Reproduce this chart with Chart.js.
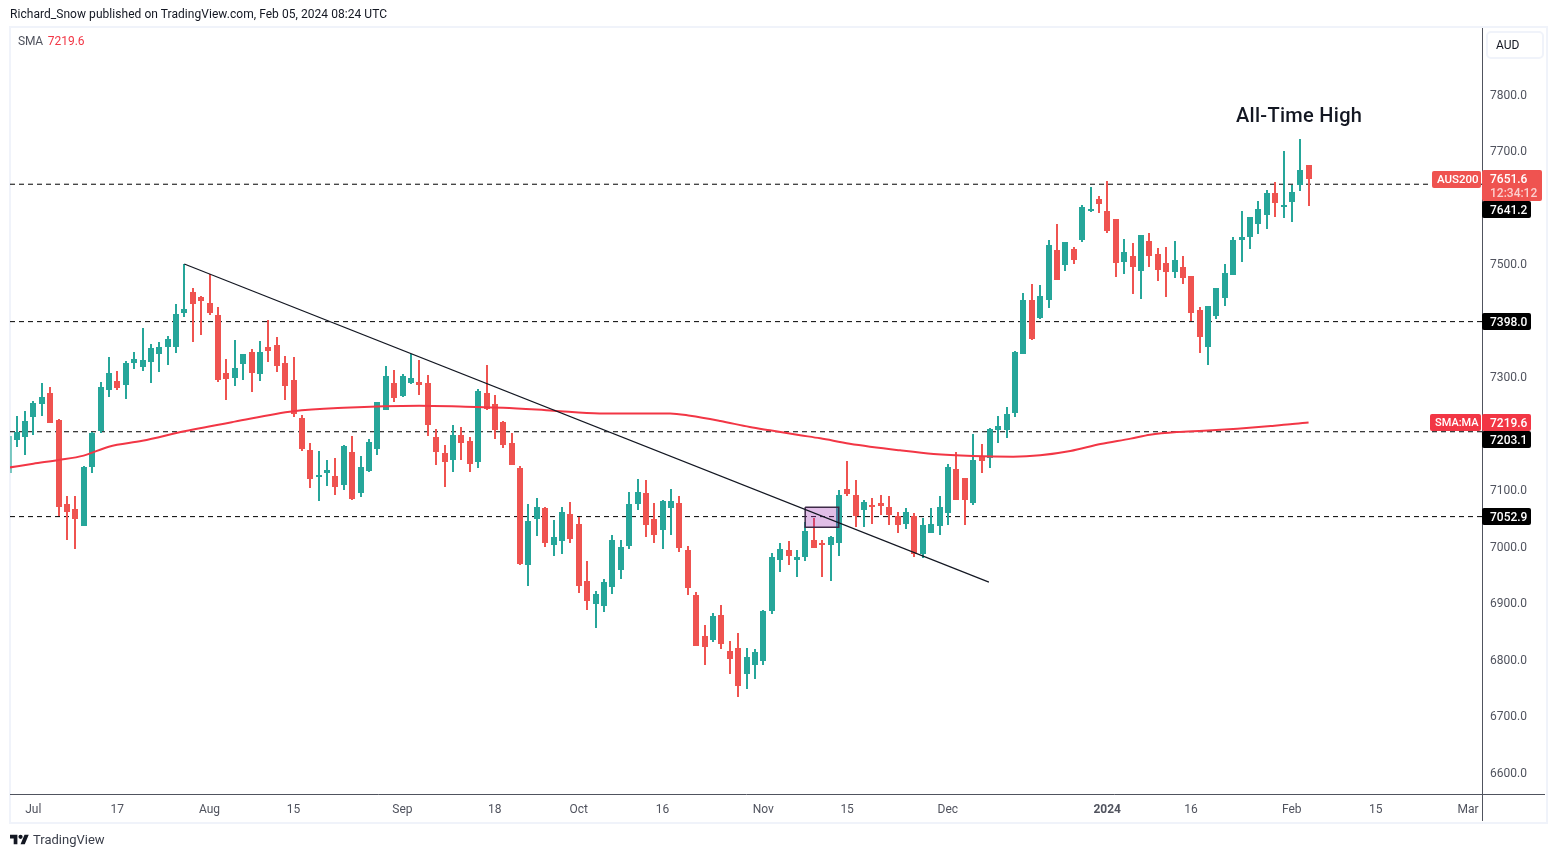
<!DOCTYPE html>
<html>
<head>
<meta charset="utf-8">
<script src="https://cdn.jsdelivr.net/npm/chart.js@4/dist/chart.umd.js"></script>
<style>
  html, body { margin: 0; padding: 0; background: #fff; width: 1556px; height: 857px; overflow: hidden; }
  body { font-family: Roboto, sans-serif; color: #131722; }
  #frame { position: absolute; left: 9px; top: 26px; width: 1535px; height: 794px; border: 2px solid #f0f3fa; }
  #plot { position: absolute; left: 0; top: 0; }
  .txt { position: absolute; white-space: nowrap; }
  #published { left: 10px; top: 7px; font-size: 12px; line-height: 15px; letter-spacing: 0.05px; }
  #legend { left: 18px; top: 34px; font-size: 12px; line-height: 15px; color: #50535e; letter-spacing: -0.2px; }
  #legend span { color: #f23645; margin-left: 2px; letter-spacing: 0; }
  #ath { left: 1236px; top: 103px; font-size: 20px; font-weight: 500; line-height: 24px; letter-spacing: 0.3px; }
  #aud { position: absolute; left: 1486px; top: 31px; width: 54px; height: 24px; border: 2px solid #f0f3fa; border-radius: 5px;
         font-size: 12px; line-height: 24px; text-indent: 8px; }
  #brand { left: 33px; top: 831px; font-size: 13px; line-height: 17px; color: #3a3e4a; }
  #logo { position: absolute; left: 10px; top: 834px; width: 19px; height: 11px; }
</style>
</head>
<body>
<div id="frame"></div>
<canvas id="plot" width="1556" height="857"></canvas>
<div class="txt" id="published">Richard_Snow published on TradingView.com, Feb 05, 2024 08:24 UTC</div>
<div class="txt" id="legend">SMA <span>7219.6</span></div>
<div class="txt" id="ath">All-Time High</div>
<div id="aud">AUD</div>
<svg id="logo" viewBox="0 4 36 18"><path fill="#131722" d="M14 22H7V11H0V4h14v18zM28 22h-8l7.5-18h8L28 22z"/><circle fill="#131722" cx="20" cy="8" r="4"/></svg>
<div class="txt" id="brand">TradingView</div>

<script>
// Daily candles, index 0 = first whole bar on the left, one bar per trading day
const opens = [
  7190.3,7195.6,7231,7254,7271.7,7223.9,7075.2,7066.4,7038,7142.5,
  7206.2,7278.8,7293,7287.6,7326.6,7319.5,7328.3,7342.5,7354.9,7354.9,
  7415.1,7450.5,7441.6,7431,7409.8,7307.1,7300,7324.8,7344.3,7307.1,
  7353.1,7356.7,7324.8,7294.7,7227.4,7170.8,7124.8,7131.9,7124.8,7110.6,
  7167.3,7096.5,7135.4,7174.3,7243.4,7289.4,7268.2,7291.2,7291.2,7289.4,
  7193.8,7165.5,7154.9,7197.4,7186.8,7151.3,7271.7,7252.2,7220.4,7183.2,
  7139,6969,7050.4,7068.1,7004.4,7011.5,7057.5,7039.8,6938.9,6900,
  6896.4,6930,6960.2,7002.6,7077,7094.7,7048.7,7031,7069.9,7077,
  6993.8,6914.1,6841.6,6836.3,6878.8,6815,6820.3,6776.1,6792,6799.1,
  6887.6,6977.9,6993.8,6977.9,6983.2,7011.5,7006.2,7004.4,7008,7101.8,
  7091.2,7066.4,7073.4,7077,7069.9,7054,7041.6,7054,6988.5,7025.6,
  7038,7061.1,7137.2,7121.2,7078.8,7158.4,7158.4,7208,7208,7238,
  7342.5,7436.3,7406.2,7438.1,7524.8,7500,7526.6,7544.3,7595.6,7615.1,
  7593.8,7579.7,7505.3,7514.2,7489.4,7540.7,7517.7,7501.8,7487.6,7494.7,
  7478.8,7418.6,7354.9,7409.8,7441.6,7482.3,7544.3,7549.6,7572.6,7588.5,
  7625.7,7602.7,7611.5,7641.6,7675.2
]
const highs = [
  7231,7239.8,7257.5,7289.4,7282.3,7225.7,7089.4,7089.4,7142.5,7202.7,
  7291.2,7335.4,7310.6,7328.3,7344.3,7386.7,7358.4,7362,7372.6,7429.2,
  7500,7457.5,7443.4,7482.3,7423.9,7331.9,7365.5,7340.7,7349.6,7363.7,
  7400.9,7370.8,7337.2,7335.4,7232.8,7183.2,7169,7153.1,7156.6,7179.6,
  7195.6,7160.2,7190.3,7255.8,7319.5,7312.4,7305.3,7340.7,7330.1,7303.5,
  7208,7179.6,7215,7211.5,7193.8,7278.8,7321.3,7268.2,7222.1,7200.9,
  7142.5,7075.2,7085.8,7069.9,7046.9,7069.9,7078.8,7052.2,6974.3,6921.2,
  6942.5,7020.3,7011.5,7096.5,7119.5,7117.7,7077,7082.3,7101.8,7089.4,
  7000.9,6919.5,6861.1,6882.3,6896.4,6832.7,6846.9,6820.3,6818.6,6887.6,
  6988.5,7006.2,7009.7,6993.8,7043.4,7050.4,7011.5,7018.6,7100,7151.3,
  7117.7,7082.3,7085.8,7091.2,7089.4,7061.1,7068.1,7059.3,7050.4,7068.1,
  7089.4,7146,7167.3,7121.2,7199.1,7181.4,7209.7,7231,7246.9,7346,
  7448.7,7464.6,7462.9,7542.5,7570.8,7539,7530.1,7604.5,7636.3,7620.4,
  7646.9,7579.7,7544.3,7537.2,7551.4,7554.9,7528.3,7530.1,7540.7,7514.2,
  7478.8,7423.9,7425.7,7457.5,7500,7547.8,7593.8,7583.2,7611.5,7631,
  7645.2,7700,7639.9,7721.3,7675.2
]
const lows = [
  7178,7163.7,7199,7232.8,7220.4,7055.8,7013.3,6997.3,7038,7131.9,
  7202.7,7266.4,7278.8,7262.8,7315.9,7312.4,7291.2,7310.6,7323,7344.3,
  7408,7363.7,7376.1,7411.5,7293,7261.1,7285.8,7296.5,7275.2,7294.7,
  7328.3,7310.6,7261.1,7231,7170.8,7105.3,7082.3,7108.9,7092.9,7101.8,
  7084.1,7089.4,7133.6,7163.7,7243.4,7257.5,7266.4,7289.4,7269.9,7197.4,
  7146,7107.1,7133.6,7154.9,7133.6,7140.7,7243.4,7192,7176.1,7146,
  6969,6931.9,7020.4,7000.9,6985,6988.5,7008,6919.5,6889.4,6857.5,
  6885.8,6917.7,6944.2,6997.3,7066.4,7018.6,7008,6997.3,7022.1,6992,
  6915.9,6825.7,6792.1,6832.7,6820.3,6776.1,6735.4,6749.5,6767.2,6792,
  6882.3,6956.6,6969,6947.8,6976.1,6999.1,6947.8,6940.7,6985,7091.2,
  7036.3,7036.3,7041.6,7057.5,7039.8,7025.6,7032.7,6983.2,6981.4,7025.6,
  7022.1,7039.8,7084.1,7039.8,7075.2,7131.9,7140.7,7185,7193.8,7231,
  7342.5,7367.3,7404.4,7423.9,7473.5,7489.4,7501.8,7540.7,7593.8,7592,
  7556.7,7478.8,7484.1,7448.7,7439.8,7496.5,7471.7,7443.4,7477,7466.4,
  7400.9,7344.3,7323,7404.4,7427.5,7482.3,7505.3,7528.3,7554.9,7563.7,
  7585,7583.2,7576.1,7631,7604.5
]
const closes = [
  7202.7,7222.1,7254,7264.6,7220.4,7071.7,7062.8,7050.4,7140.7,7200.9,
  7282.3,7307.1,7282.3,7324.8,7331.9,7330.1,7351.3,7353.1,7367.3,7411.5,
  7420.4,7431,7436.3,7415.1,7296.5,7298.2,7315.9,7340.7,7308.9,7344.3,
  7347.8,7321.2,7285.8,7236.3,7174.3,7121.2,7126.5,7135.4,7107.1,7177.9,
  7085.8,7140.7,7185,7255.8,7301.8,7264.6,7301.8,7298.2,7287.6,7216.8,
  7169,7151.3,7197.4,7185,7147.8,7275.2,7245.1,7208,7181.4,7146,
  6970.8,7045.1,7069.9,7008,7016.8,7061.1,7015,6931.9,6905.3,6915.9,
  6937.2,7011.5,6999.1,7075.2,7096.5,7039.8,7022.1,7080.5,7080.5,6999.1,
  6928.3,6825.7,6823.9,6877,6829.2,6802.6,6754.8,6804.4,6813.3,6885.8,
  6981.4,6995.6,6985,6981.4,7027.4,6999.1,7004.4,7016.8,7091.2,7094.7,
  7055.8,7078.8,7071.7,7073.4,7057.5,7039.8,7061.1,6988.5,7038,7039.8,
  7069.9,7140.7,7084.1,7084.1,7153.1,7153.1,7208,7213.3,7234.5,7344.3,
  7436.3,7369,7443.4,7533.6,7473.5,7539,7508.9,7600.9,7597.4,7608,
  7560.2,7503.6,7521.3,7496.5,7551.4,7516,7491.2,7487.6,7507.1,7477,
  7415.1,7372.6,7425.7,7457.5,7484.1,7542.5,7547.8,7583.2,7597.4,7625.7,
  7609.8,7604.5,7627.5,7666.4,7651.6
]

// bar cut off by the left edge of the pane, only its wick shows
const cutBarIdx = -0.72
const cutBarRange = [7131.9, 7195.6]

// 200 SMA read at a set of bars
const smaIdx = [-0.8,2,5,8,11,15,20,26,33,39,48,53.5,58,64,69.5,77.9,80.3,83.9,87.4,89.8,93.4,95.8,99.3,105.3,109.3,114,118.8,122,125.6,129.2,132.8,135.1,138.3,141.5,145.5,149.5,151.8,154]
const smaValues = [7140,7146.6,7153,7160.8,7176.7,7187,7203.8,7221,7239.5,7245.7,7249.3,7247.5,7245.7,7240.4,7235.6,7235.6,7231.5,7222.1,7211.5,7205.6,7197,7191.4,7182,7170.2,7163.7,7160.2,7159,7161.4,7169,7181.4,7190.9,7197.9,7202.7,7205,7208.6,7213.3,7216.2,7219.6]

// horizontal levels, trend line and the purple box
const levels = [7641.2, 7398.0, 7203.1, 7052.9]
const trendIdx = [20, 115.9]
const trendValues = [7500, 6937]
const boxIdx = [94, 98]
const boxValues = [7069.3, 7033.9]

// axis ticks
const xTickIdx = [2,12,23,33,46,57,67,77,89,99,111,130,140,152,162,173]
const xTickLabels = ["Jul","17","Aug","15","Sep","18","Oct","16","Nov","15","Dec","2024","16","Feb","15","Mar"]
const yTicks = [6600,6700,6800,6900,7000,7100,7300,7500,7700,7800]

const GREEN = "#26a69a"
const RED = "#ef5350"
const SMA_RED = "#f23645"

// 棒の位置はピクセルに揃える (TradingViewと同じくシャープに見せるため)
const snapPlugin = {
  id: "snap",
  beforeDatasetDraw(chart, args) {
    const ds = chart.data.datasets[args.index]
    const ctx = chart.ctx
    if (ds.type !== "line") {
      const rect = ctx.rect
      ctx.rect = (x, y, w, h) => rect.call(ctx, Math.round(x), Math.round(y), Math.max(1, Math.round(w)), Math.max(1, Math.round(h)))
    } else if (ds.snapLevel) {
      const moveTo = ctx.moveTo, lineTo = ctx.lineTo
      ctx.moveTo = (x, y) => moveTo.call(ctx, x, Math.floor(y) + 0.5)
      ctx.lineTo = (x, y) => lineTo.call(ctx, x, Math.floor(y) + 0.5)
    }
  },
  afterDatasetDraw(chart) {
    const ctx = chart.ctx
    delete ctx.rect
    delete ctx.moveTo
    delete ctx.lineTo
  }
}

function tag(ctx, x, y, w, h, color, lines) {
  ctx.fillStyle = color
  ctx.beginPath()
  ctx.roundRect(x, y, w, h, 2)
  ctx.fill()
  lines.forEach(l => {
    ctx.font = `500 ${l.size || 12}px Roboto, sans-serif`
    ctx.fillStyle = l.color || "#fff"
    ctx.textAlign = "left"
    ctx.textBaseline = "middle"
    ctx.fillText(l.text, x + l.dx, y + l.dy)
  })
}

// 右側の価格タグ
const tagsPlugin = {
  id: "priceTags",
  afterDraw(chart) {
    const { ctx } = chart
    const y = chart.scales.y
    // axis lines run on through the price and time strips
    ctx.strokeStyle = "#50535e"
    ctx.lineWidth = 1
    ctx.beginPath()
    ctx.moveTo(1482.5, 28)
    ctx.lineTo(1482.5, 821)
    ctx.moveTo(1482, 794.5)
    ctx.lineTo(1545, 794.5)
    ctx.stroke()

    const px = v => Math.round(y.getPixelForValue(v))
    // 7641.2 and 7203.1 sit just under the tags they would collide with
    const tagOffset = [17, -9, -1, -9]
    levels.forEach((v, i) => {
      tag(ctx, 1482, px(v) + tagOffset[i], 49, 17, "#000", [{ text: v.toFixed(1), dx: 8, dy: 10 }])
    })
    const last = closes[closes.length - 1]
    tag(ctx, 1432, px(last) - 7, 49, 17, RED, [{ text: "AUS200", dx: 5, dy: 9.5, size: 11.5 }])
    tag(ctx, 1482, px(last) - 8, 60, 31, RED, [
      { text: last.toFixed(1), dx: 8, dy: 9.5 },
      { text: "12:34:12", dx: 8, dy: 23.5, color: "#fbd0cf" }
    ])
    const smaVal = smaValues[smaValues.length - 1]
    tag(ctx, 1430, px(smaVal) - 8, 51, 17, SMA_RED, [{ text: "SMA:MA", dx: 5, dy: 9.5, size: 11 }])
    tag(ctx, 1482, px(smaVal) - 8, 49, 17, SMA_RED, [{ text: smaVal.toFixed(1), dx: 8, dy: 9.5 }])
  }
}

const xMin = -0.775
const xMax = 174.67

const datasets = []

levels.forEach(v => {
  datasets.push({
    type: "line",
    snapLevel: true,
    data: [{ x: xMin, y: v }, { x: xMax, y: v }],
    borderColor: "#000",
    borderWidth: 1,
    borderDash: [5, 4],
    pointRadius: 0,
    order: 6
  })
})

datasets.push({
  data: [{ x: cutBarIdx, y: cutBarRange }],
  backgroundColor: "rgba(38,166,154,0.6)",
  barThickness: 1,
  grouped: false,
  order: 5
})
datasets.push({
  data: highs.map((h, i) => ({ x: i, y: [lows[i], h] })),
  backgroundColor: closes.map((c, i) => c >= opens[i] ? GREEN : RED),
  barThickness: 1,
  grouped: false,
  order: 5
})
datasets.push({
  data: opens.map((o, i) => ({ x: i, y: [o, closes[i]] })),
  backgroundColor: closes.map((c, i) => c >= opens[i] ? GREEN : RED),
  barThickness: 5,
  grouped: false,
  order: 4
})

datasets.push({
  type: "line",
  data: [
    { x: boxIdx[0], y: boxValues[0] },
    { x: boxIdx[1], y: boxValues[0] },
    { x: boxIdx[1], y: boxValues[1] },
    { x: boxIdx[0], y: boxValues[1] },
    { x: boxIdx[0], y: boxValues[0] }
  ],
  borderColor: "#3d2a47",
  borderWidth: 1.5,
  backgroundColor: "rgba(156,39,176,0.3)",
  fill: "shape",
  pointRadius: 0,
  order: 3
})

datasets.push({
  type: "line",
  data: smaIdx.map((x, i) => ({ x, y: smaValues[i] })),
  borderColor: SMA_RED,
  borderWidth: 2,
  cubicInterpolationMode: "monotone",
  pointRadius: 0,
  order: 2
})

datasets.push({
  type: "line",
  data: trendIdx.map((x, i) => ({ x, y: trendValues[i] })),
  borderColor: "#131722",
  borderWidth: 1.2,
  pointRadius: 0,
  order: 1
})

new Chart(document.getElementById("plot"), {
  type: "bar",
  data: { datasets },
  plugins: [snapPlugin, tagsPlugin],
  options: {
    responsive: false,
    animation: false,
    devicePixelRatio: 1,
    layout: { padding: { left: 10, top: 28, right: 10, bottom: 35 } },
    plugins: { legend: { display: false }, tooltip: { enabled: false } },
    scales: {
      x: {
        type: "linear",
        min: xMin,
        max: xMax,
        offset: false,
        grid: { display: false, drawTicks: false },
        border: { display: true, color: "#50535e", width: 1 },
        afterFit(scale) { scale.height = 28 },
        afterBuildTicks(scale) { scale.ticks = xTickIdx.map(value => ({ value })) },
        ticks: {
          autoSkip: false,
          maxRotation: 0,
          padding: 9,
          color: "#50535e",
          font: c => ({ family: "Roboto, sans-serif", size: 12, weight: c.tick && c.tick.value === 130 ? "bold" : "normal" }),
          callback: v => xTickLabels[xTickIdx.indexOf(v)]
        }
      },
      y: {
        position: "right",
        min: 7800 - (794 - 94.5) / 0.565,
        max: 7800 + (94.5 - 28) / 0.565,
        grid: { display: false, drawTicks: false },
        border: { display: false },
        afterFit(scale) { scale.width = 64 },
        afterBuildTicks(scale) { scale.ticks = yTicks.map(value => ({ value })) },
        ticks: {
          padding: 8,
          labelOffset: 1,
          color: "#50535e",
          font: { family: "Roboto, sans-serif", size: 12 },
          callback: v => v.toFixed(1)
        }
      }
    }
  }
})
</script>
</body>
</html>
